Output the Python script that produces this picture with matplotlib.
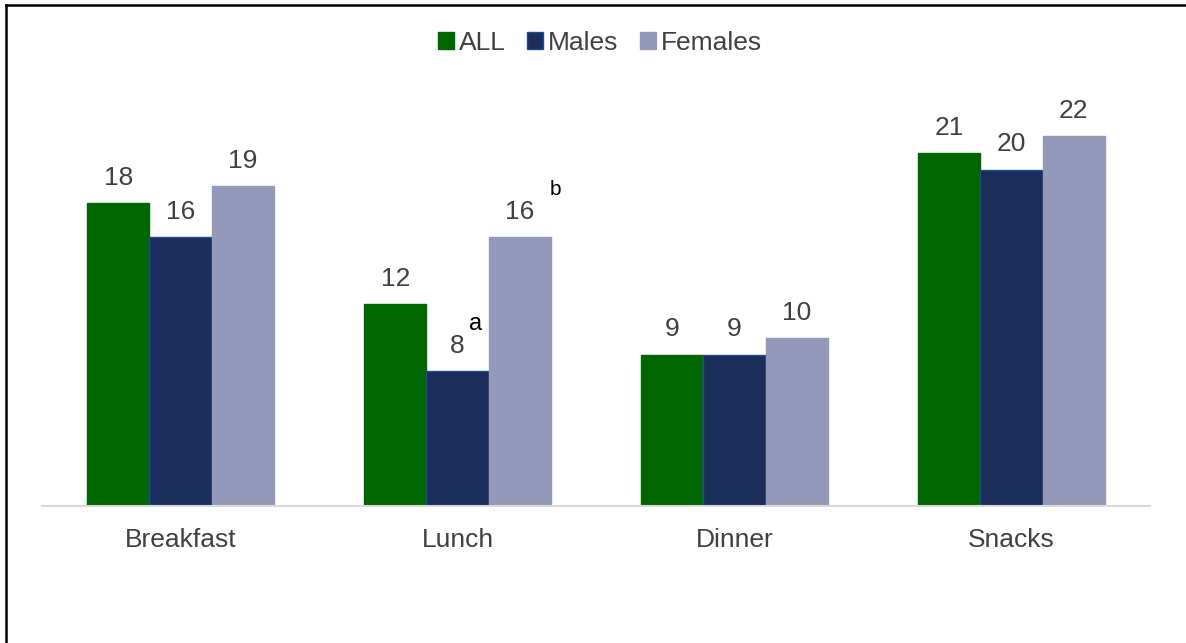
import numpy as np
import matplotlib
matplotlib.use("Agg")
from matplotlib import pyplot as plt
from matplotlib.lines import Line2D

plt.rcParams['font.family'] = ['Liberation Sans', 'DejaVu Sans']

meals = ["Breakfast", "Lunch", "Dinner", "Snacks"]
series = ["ALL", "Males", "Females"]
all_vals = [18, 12, 9, 21]
male_vals = [16, 8, 9, 20]
female_vals = [19, 16, 10, 22]
colors = ["#006600", "#1b2d5a", "#9599b9"]
edges = ["#006600", "#1f4e8c", "#9599b9"]

fig = plt.figure(figsize=(11.86, 6.43), dpi=100)
ax = fig.add_axes([42/1186, 1-506/643, (1150-42)/1186, (506-85.5)/643])

x = np.arange(len(meals))
w = 0.224
txt = "#404040"
for i, vals in enumerate([all_vals, male_vals, female_vals]):
    bars = ax.bar(x + (i-1)*w, vals, w, color=colors[i], edgecolor=edges[i],
                  linewidth=1, label=series[i])
    for b, v in zip(bars, vals):
        ax.annotate(str(v), (b.get_x()+b.get_width()/2, v), xytext=(0, 9.5),
                    textcoords="offset points", ha="center", va="bottom",
                    fontsize=19, color=txt)

# significance letters
ax.annotate("a", (x[1], male_vals[1]), xytext=(8.5, 29.5), textcoords="offset points",
            ha="left", va="baseline", fontsize=17, color="black")
ax.annotate("b", (x[1]+w, female_vals[1]), xytext=(22, 30), textcoords="offset points",
            ha="left", va="baseline", fontsize=15, color="black")

ax.set_xlim(-0.5, 3.5)
ax.set_ylim(0, 25)
ax.set_xticks(x)
ax.set_xticklabels(meals, fontsize=19, color=txt)
ax.tick_params(axis="x", length=0, pad=16)
ax.set_yticks([])
for s in ["top", "right", "left"]:
    ax.spines[s].set_visible(False)
ax.spines["bottom"].set_color("#d9d9d9")
ax.spines["bottom"].set_linewidth(1.5)

leg = fig.legend(loc="center", bbox_to_anchor=(600/1186, 1-43/643), ncol=3, frameon=False,
                 fontsize=19, handlelength=0.6, handleheight=0.6, handletextpad=0.2,
                 columnspacing=0.8, labelcolor=txt)

# outer frame (top and left only)
fig.add_artist(Line2D([6/1186, 1], [1-5/643, 1-5/643], color="black", lw=1.8,
                      transform=fig.transFigure))
fig.add_artist(Line2D([6/1186, 6/1186], [0, 1-5/643], color="black", lw=1.8,
                      transform=fig.transFigure))

fig.savefig("out.png", dpi=100)
